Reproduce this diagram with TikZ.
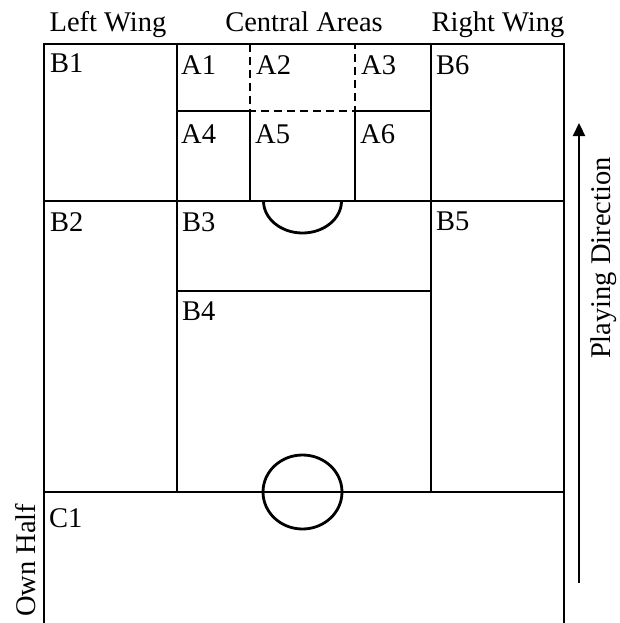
\documentclass[tikz,border=0pt]{standalone}
\usepackage{fontspec}
\setmainfont{Liberation Serif}
\usetikzlibrary{arrows.meta}
\newcommand{\pitchfont}{\fontsize{28.5}{34}\selectfont}
\tikzset{
  pitchline/.style  = {line width=2.8pt, black},
  zonedash/.style   = {pitchline, dash pattern=on 8pt off 5pt},
  zonelabel/.style  = {anchor=north west, inner sep=0pt, font=\pitchfont},
  headlabel/.style  = {anchor=base, inner sep=0pt, font=\pitchfont},
  sidelabel/.style  = {rotate=90, anchor=base, inner sep=0pt, font=\pitchfont},
  dirarrow/.style   = {-{Triangle[length=13pt, width=12pt]}, line width=2.2pt, black},
}

\begin{document}
\begin{tikzpicture}[x=1pt, y=-1pt]
\useasboundingbox (0,0) rectangle (619,623);

% ================= Headers =================
\node (leftwing)  [headlabel] at (108, 32) {Left Wing};
\node (central)   [headlabel] at (304, 32) {Central Areas};
\node (rightwing) [headlabel] at (498, 32) {Right Wing};

% ================= Pitch outline =================
\draw [pitchline] (44, 623) -- (44, 44) -- (564, 44) -- (564, 623);

% wings
\draw [pitchline] (177, 44) -- (177, 492);
\draw [pitchline] (431, 44) -- (431, 492);

% cross lines
\draw [pitchline] (44, 201) -- (564, 201);
\draw [pitchline] (177, 291) -- (431, 291);
\draw [pitchline] (44, 492) -- (564, 492);

% central areas A1--A6
\draw [pitchline] (177, 111) -- (250, 111);
\draw [pitchline] (355, 111) -- (431, 111);
\draw [zonedash]  (250, 44) -- (250, 111) -- (355, 111) -- (355, 44);
\draw [pitchline] (250, 111) -- (250, 201);
\draw [pitchline] (355, 111) -- (355, 201);

% arc and centre circle
\draw [pitchline] (263.5, 201) arc [start angle=180, end angle=0, x radius=39, y radius=32];
\draw [pitchline] (302.5, 492) ellipse [x radius=39.5, y radius=37];

% ================= Zones =================
\node (b1) [zonelabel] at (50, 53)   {B1};
\node (a1) [zonelabel] at (181, 55)  {A1};
\node (a2) [zonelabel] at (256, 55)  {A2};
\node (a3) [zonelabel] at (361, 55)  {A3};
\node (b6) [zonelabel] at (436, 55)  {B6};
\node (a4) [zonelabel] at (181, 124) {A4};
\node (a5) [zonelabel] at (255, 124) {A5};
\node (a6) [zonelabel] at (360, 124) {A6};
\node (b2) [zonelabel] at (50, 212)  {B2};
\node (b3) [zonelabel] at (182, 212) {B3};
\node (b5) [zonelabel] at (436, 212) {B5};
\node (b4) [zonelabel] at (182, 302) {B4};
\node (c1) [zonelabel] at (49, 508)  {C1};

% ================= Sides =================
\node (ownhalf) [sidelabel, anchor=base west] at (35, 617) {Own Half};
\coordinate (dirstart) at (579, 583);
\coordinate (dirend)   at (579, 123);
\draw [dirarrow] (dirstart) -- (dirend);
\node (playdir) [sidelabel] at (610, 258) {Playing Direction};

\end{tikzpicture}
\end{document}
